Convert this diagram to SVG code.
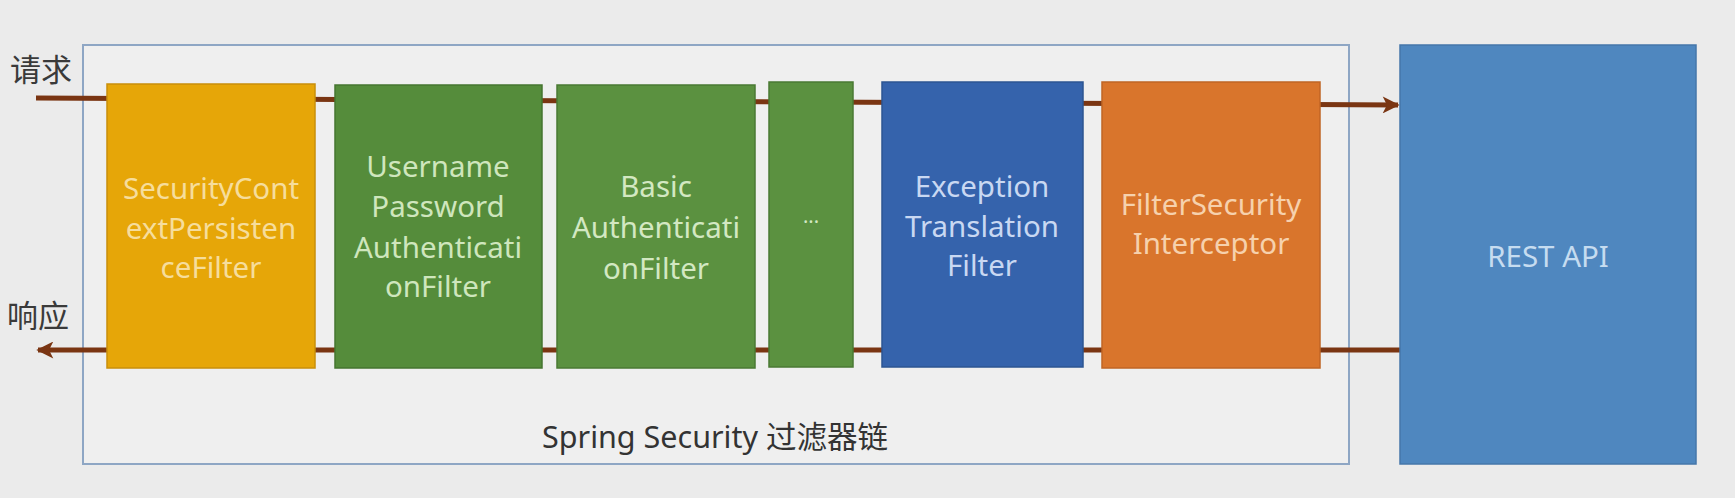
<svg xmlns="http://www.w3.org/2000/svg" width="1735" height="498" viewBox="0 0 1735 498">
<defs>
<style>
.lbl{font-family:"Noto Sans","Open Sans",sans-serif;font-size:29.5px;text-anchor:middle}
.cjk{font-family:"Noto Sans CJK SC",sans-serif;font-size:31px;fill:#3a3a3a}
.box{stroke-width:1.5}
.conn{stroke:#7a3512;stroke-width:5;fill:none}
</style>
<marker id="ah" viewBox="0 0 10 10" refX="9" refY="5" markerWidth="3.6" markerHeight="3.4" orient="auto-start-reverse" markerUnits="strokeWidth">
<path d="M0,0 L10,5 L0,10 L2.5,5 Z" fill="#7a3512"/>
</marker>
</defs>
<rect x="0" y="0" width="1735" height="498" fill="#ebebeb"/>
<g id="frame">
<rect x="83" y="45" width="1266" height="419" fill="#efefef" stroke="#8ea6c4" stroke-width="2"/>
<text x="715" y="448" style="font-family:'Noto Sans','Noto Sans CJK SC',sans-serif;font-size:30.5px;fill:#333;text-anchor:middle">Spring Security 过滤器链</text>
</g>
<g id="connectors">
<line class="conn" x1="36" y1="98" x2="1398" y2="105" marker-end="url(#ah)"/>
<line class="conn" x1="1400" y1="350" x2="38" y2="350" marker-end="url(#ah)"/>
</g>
<g id="req"><text class="cjk" x="10" y="81">请求</text></g>
<g id="resp"><text class="cjk" x="7" y="327">响应</text></g>
<g id="n1">
<rect class="box" x="107" y="84" width="208" height="284" fill="#e6a608" stroke="#c98f0a"/>
<text class="lbl" fill="#f6dd9c"><tspan x="211" y="199">SecurityCont</tspan><tspan x="211" y="239">extPersisten</tspan><tspan x="211" y="278">ceFilter</tspan></text>
</g>
<g id="n2">
<rect class="box" x="335" y="85" width="207" height="283" fill="#558c3b" stroke="#457530"/>
<text class="lbl" fill="#cfe6bd"><tspan x="438" y="177">Username</tspan><tspan x="438" y="217">Password</tspan><tspan x="438" y="258">Authenticati</tspan><tspan x="438" y="297">onFilter</tspan></text>
</g>
<g id="n3">
<rect class="box" x="557" y="85" width="198" height="283" fill="#5b9140" stroke="#4a7a33"/>
<text class="lbl" fill="#d3e8c2"><tspan x="656" y="197">Basic</tspan><tspan x="656" y="238">Authenticati</tspan><tspan x="656" y="279">onFilter</tspan></text>
</g>
<g id="n4">
<rect class="box" x="769" y="82" width="84" height="285" fill="#5b9140" stroke="#4a7a33"/>
<text class="lbl" fill="#d3e8c2" x="811" y="229" style="font-size:20px">···</text>
</g>
<g id="n5">
<rect class="box" x="882" y="82" width="201" height="285" fill="#3563ac" stroke="#2c5592"/>
<text class="lbl" fill="#c9d8f2"><tspan x="982" y="197">Exception</tspan><tspan x="982" y="237">Translation</tspan><tspan x="982" y="276">Filter</tspan></text>
</g>
<g id="n6">
<rect class="box" x="1102" y="82" width="218" height="286" fill="#d9752c" stroke="#c06525"/>
<text class="lbl" fill="#f6d1ad"><tspan x="1211" y="215">FilterSecurity</tspan><tspan x="1211" y="254">Interceptor</tspan></text>
</g>
<g id="rest">
<rect class="box" x="1400" y="45" width="296" height="419" fill="#4f87bf" stroke="#4577aa"/>
<text class="lbl" fill="#c6dcf0" x="1548" y="267">REST API</text>
</g>
</svg>
